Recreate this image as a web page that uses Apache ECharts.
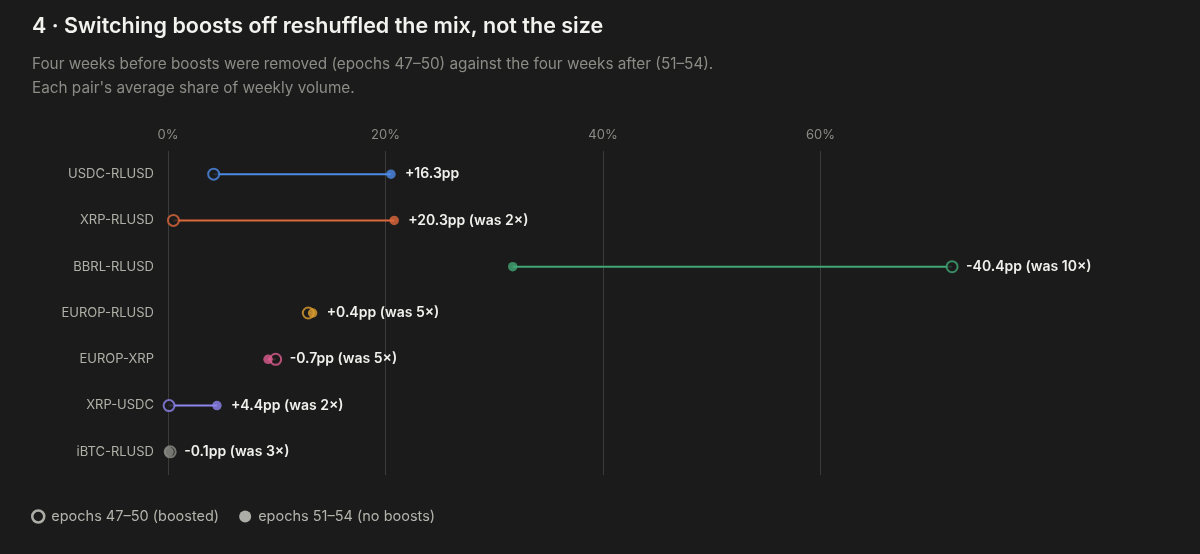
<!DOCTYPE html>
<html>
<head>
<meta charset="utf-8">
<script src="https://cdn.jsdelivr.net/npm/echarts@6/dist/echarts.min.js"></script>
<style>
  html, body { margin: 0; padding: 0; background: #1b1b1b; }
  #chart { width: 1200px; height: 554px; }
</style>
</head>
<body>
<div id="chart"></div>
<script>
// pairs, top to bottom
var pairs = ['USDC-RLUSD', 'XRP-RLUSD', 'BBRL-RLUSD', 'EUROP-RLUSD', 'EUROP-XRP', 'XRP-USDC', 'iBTC-RLUSD']
// average share of weekly volume, %
var boosted = [4.2, 0.5, 72.1, 12.9, 9.9, 0.1, 0.2]   // epochs 47-50
var noBoost = [20.5, 20.8, 31.7, 13.3, 9.2, 4.5, 0.1] // epochs 51-54
// boost multiplier before removal (null = none)
var boostMult = [null, 2, 10, 5, 5, 2, 3]
var pairColors = ['#4d8ae6', '#dc683c', '#42a676', '#dc9e30', '#dc5c8e', '#8f85ee', '#8e8e88']
var xTicks = [0, 20, 40, 60, 80]

var bg = '#1b1b1b'
var font = 'Inter, "Noto Sans", sans-serif'

function labelFor (i) {
  var d = noBoost[i] - boosted[i]
  var s = (d >= 0 ? '+' : '-') + Math.abs(d).toFixed(1) + 'pp'
  if (boostMult[i]) s += ' (was ' + boostMult[i] + '\u00d7)'
  return s
}

var segData = pairs.map(function (p, i) {
  return [boosted[i], noBoost[i], i]
})

var myChart = echarts.init(document.getElementById('chart'))
var option = {
  backgroundColor: bg,
  animation: false,
  textStyle: { fontFamily: font },
  title: [{
    text: '4 \u00b7 Switching boosts off reshuffled the mix, not the size',
    left: 27,
    top: 11,
    textStyle: { color: '#f2f2ee', fontSize: 21.5, fontWeight: 600, fontFamily: font }
  }, {
    text: 'Four weeks before boosts were removed (epochs 47\u201350) against the four weeks after (51\u201354).\nEach pair\'s average share of weekly volume.',
    left: 27,
    top: 47,
    textStyle: { color: '#8c8c86', fontSize: 15.3, fontWeight: 400, lineHeight: 24, fontFamily: font }
  }],
  legend: {
    left: 26,
    top: 504,
    itemWidth: 12,
    itemHeight: 12,
    itemGap: 20,
    data: [
      { name: 'epochs 47\u201350 (boosted)', icon: 'circle', itemStyle: { color: bg, borderColor: '#d2d2ca', borderWidth: 2.5 } },
      { name: 'epochs 51\u201354 (no boosts)', icon: 'circle', itemStyle: { color: '#d2d2ca' } }
    ],
    textStyle: { color: '#b4b4ac', fontSize: 14.5, fontFamily: font, padding: [0, 0, 0, 2] }
  },
  grid: { left: 168, right: 162, top: 151, bottom: 79 },
  xAxis: {
    type: 'value',
    position: 'top',
    min: 0,
    max: 80,
    interval: 20,
    axisLine: { show: false },
    axisTick: { show: false },
    axisLabel: {
      color: '#8c8c86',
      fontSize: 13,
      margin: 9,
      showMaxLabel: false,
      formatter: function (v) { return xTicks.indexOf(v) >= 0 ? v + '%' : '' }
    },
    splitLine: {
      lineStyle: { color: ['#3b3b39', '#3b3b39', '#3b3b39', '#3b3b39', 'rgba(0,0,0,0)'], width: 1 }
    }
  },
  yAxis: {
    type: 'category',
    inverse: true,
    data: pairs,
    axisLine: { show: false },
    axisTick: { show: false },
    axisLabel: { color: '#b0b0a8', fontSize: 13, margin: 14 },
    splitLine: { show: false }
  },
  series: [{
    // connector + delta label
    type: 'custom',
    name: 'seg',
    z: 1,
    encode: { x: [0, 1], y: 2 },
    data: segData,
    renderItem: function (params, api) {
      var i = params.dataIndex
      var a = api.coord([api.value(0), api.value(2)])
      var b = api.coord([api.value(1), api.value(2)])
      var right = Math.max(a[0], b[0])
      return {
        type: 'group',
        children: [{
          type: 'line',
          shape: { x1: a[0], y1: a[1], x2: b[0], y2: b[1] },
          style: { stroke: pairColors[i], lineWidth: 2 }
        }, {
          type: 'text',
          style: {
            x: right + 14,
            y: a[1],
            text: labelFor(i),
            fill: '#f0f0ec',
            fontSize: 14,
            fontWeight: 600,
            fontFamily: font,
            verticalAlign: 'middle',
            align: 'left'
          }
        }]
      }
    }
  }, {
    type: 'scatter',
    name: 'epochs 47\u201350 (boosted)',
    z: 2,
    symbol: 'circle',
    symbolSize: 11,
    itemStyle: { color: bg, borderColor: '#d2d2ca', borderWidth: 2 },
    data: boosted.map(function (v, i) {
      return { value: [v, i], itemStyle: { color: bg, borderColor: pairColors[i], borderWidth: 2 } }
    })
  }, {
    type: 'scatter',
    name: 'epochs 51\u201354 (no boosts)',
    z: 3,
    symbol: 'circle',
    symbolSize: 9.5,
    itemStyle: { color: '#d2d2ca' },
    data: noBoost.map(function (v, i) {
      return { value: [v, i], itemStyle: { color: pairColors[i] } }
    })
  }]
}
myChart.setOption(option)
</script>
</body>
</html>
